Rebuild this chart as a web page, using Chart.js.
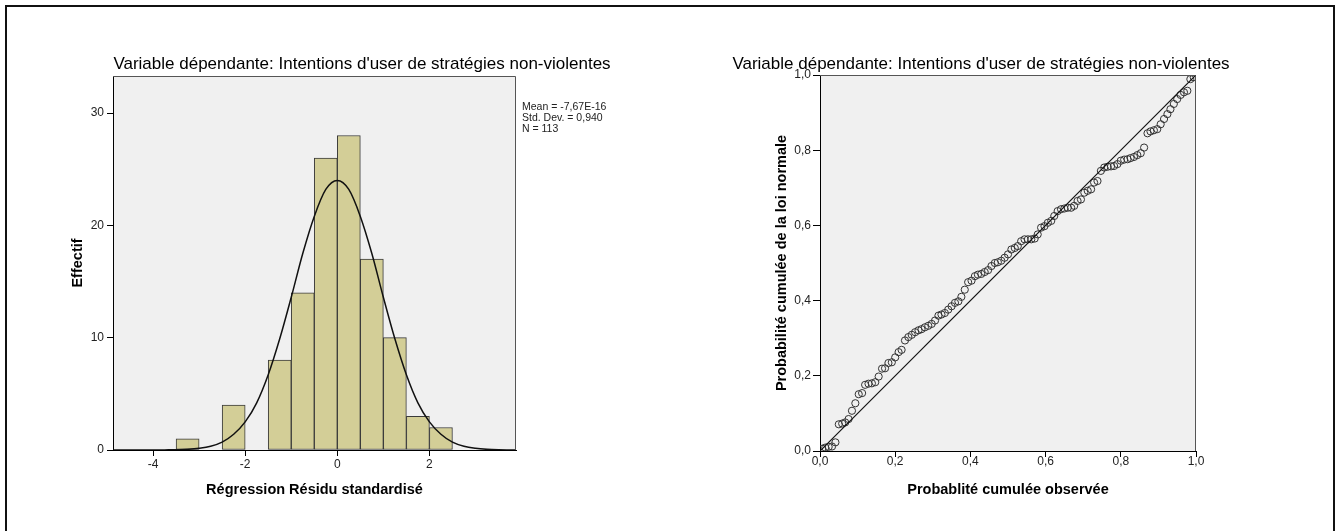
<!DOCTYPE html>
<html><head><meta charset="utf-8">
<script src="https://cdn.jsdelivr.net/npm/chart.js@4"></script>
<style>
html,body{margin:0;padding:0;background:#fff;width:1339px;height:531px;overflow:hidden;font-family:"Liberation Sans",Arial,sans-serif;}
#frame{position:absolute;left:5px;top:5px;width:1326px;height:600px;border:2px solid #111;}
canvas{position:absolute;top:0;}
.title{position:absolute;top:54px;width:600px;text-align:center;font-size:17px;line-height:20px;color:#000;white-space:nowrap;}
.legend{position:absolute;left:522px;top:101px;font-size:10.5px;line-height:11px;color:#222;white-space:nowrap;}
</style></head>
<body>
<div id="frame"></div>
<canvas id="c1" width="660" height="531" style="left:0px"></canvas>
<canvas id="c2" width="659" height="531" style="left:680px"></canvas>
<div class="title" id="t1" style="left:62px"></div>
<div class="title" id="t2" style="left:681px"></div>
<div class="legend" id="lg"></div>
<script>
// ---------- data ----------
const chartTitle = "Variable dépendante: Intentions d'user de stratégies non-violentes";
const histXTitle = "Régression Résidu standardisé";
const histYTitle = "Effectif";
const ppXTitle = "Probablité cumulée observée";
const ppYTitle = "Probabilité cumulée de la loi normale";
const legendLines = ["Mean = -7,67E-16", "Std. Dev. = 0,940", "N = 113"];

const binCenters = [-3.25, -2.25, -1.25, -0.75, -0.25, 0.25, 0.75, 1.25, 1.75, 2.25];
const binCounts  = [1, 4, 8, 14, 26, 28, 17, 10, 3, 2];

const curveX = [-4.87,-4.5,-4.25,-4,-3.75,-3.5,-3.25,-3,-2.75,-2.5,-2.25,-2,-1.75,-1.5,-1.25,-1,-0.75,-0.5,-0.25,0,0.25,0.5,0.75,1,1.25,1.5,1.75,2,2.25,2.5,2.75,3,3.25,3.5,3.88];
const curveY = [0,0,0,0,0.01,0.02,0.06,0.15,0.33,0.7,1.4,2.5,4.2,6.7,9.9,13.6,17.5,20.8,23.2,24,23.2,20.8,17.5,13.6,9.9,6.7,4.2,2.5,1.4,0.7,0.33,0.15,0.06,0.02,0];

const histXTicks = [-4, -2, 0, 2];
const histYTicks = [0, 10, 20, 30];

const ppObserved = [0.006,0.014,0.023,0.032,0.041,0.050,0.059,0.067,0.076,0.085,
0.094,0.103,0.112,0.120,0.129,0.138,0.147,0.156,0.165,0.173,
0.182,0.191,0.200,0.209,0.217,0.226,0.235,0.244,0.253,0.262,
0.270,0.279,0.288,0.297,0.306,0.315,0.323,0.332,0.341,0.350,
0.359,0.368,0.376,0.385,0.394,0.403,0.412,0.420,0.429,0.438,
0.447,0.456,0.465,0.473,0.482,0.491,0.500,0.509,0.518,0.526,
0.535,0.544,0.553,0.562,0.571,0.579,0.588,0.597,0.606,0.615,
0.623,0.632,0.641,0.650,0.659,0.668,0.676,0.685,0.694,0.703,
0.712,0.721,0.729,0.738,0.747,0.756,0.765,0.774,0.782,0.791,
0.800,0.809,0.818,0.826,0.835,0.844,0.853,0.862,0.871,0.879,
0.888,0.897,0.906,0.915,0.924,0.932,0.941,0.950,0.959,0.968,
0.977,0.985,0.994];
const ppExpected = [0.006,0.009,0.011,0.012,0.023,0.071,0.073,0.076,0.085,0.107,
0.127,0.151,0.154,0.176,0.179,0.180,0.183,0.198,0.219,0.220,
0.234,0.236,0.249,0.263,0.269,0.294,0.303,0.309,0.316,0.321,
0.324,0.329,0.333,0.338,0.347,0.360,0.363,0.367,0.376,0.385,
0.394,0.398,0.410,0.429,0.449,0.453,0.465,0.469,0.471,0.476,
0.481,0.492,0.500,0.502,0.506,0.514,0.523,0.536,0.540,0.545,
0.558,0.563,0.563,0.563,0.565,0.576,0.594,0.598,0.607,0.612,
0.625,0.638,0.643,0.645,0.647,0.647,0.652,0.665,0.669,0.687,
0.692,0.696,0.714,0.718,0.745,0.754,0.756,0.757,0.758,0.763,
0.772,0.775,0.776,0.779,0.782,0.787,0.792,0.807,0.845,0.850,
0.853,0.856,0.869,0.883,0.896,0.909,0.923,0.936,0.947,0.954,
0.958,0.989,0.994];
const diagonal = [0, 1];
const ppTicks = [0, 0.2, 0.4, 0.6, 0.8, 1.0];

// ---------- text ----------
document.getElementById('t1').textContent = chartTitle;
document.getElementById('t2').textContent = chartTitle;
document.getElementById('lg').innerHTML = legendLines.map(s => '<div>' + s + '</div>').join('');

Chart.defaults.font.family = "'Liberation Sans', Arial, sans-serif";
Chart.defaults.font.size = 12;
Chart.defaults.color = '#222';
Chart.defaults.animation = false;

const plotBg = {
  id: 'plotBg',
  beforeDraw(chart) {
    const {ctx, chartArea: a} = chart;
    ctx.save();
    ctx.fillStyle = '#f0f0f0';
    ctx.fillRect(a.left, a.top, a.right - a.left, a.bottom - a.top);
    ctx.restore();
  },
  afterDraw(chart) {
    const {ctx, chartArea: a} = chart;
    ctx.save();
    ctx.strokeStyle = '#555';
    ctx.lineWidth = 1;
    ctx.beginPath();
    ctx.moveTo(a.left, a.top + 0.5);
    ctx.lineTo(a.right - 0.5, a.top + 0.5);
    ctx.lineTo(a.right - 0.5, a.bottom);
    ctx.stroke();
    ctx.restore();
  }
};

const titleFont = {size: 14.5, weight: 'bold'};
const commonPlugins = {legend: {display: false}, tooltip: {enabled: false}, title: {display: false}};

// ---------- histogram ----------
new Chart(document.getElementById('c1'), {
  type: 'bar',
  data: {
    datasets: [
      {
        type: 'line',
        data: curveX.map((x, i) => ({x: x, y: curveY[i]})),
        borderColor: '#111', borderWidth: 1.5, pointRadius: 0,
        cubicInterpolationMode: 'monotone', fill: false, order: 0
      },
      {
        type: 'bar',
        data: binCenters.map((x, i) => ({x: x, y: binCounts[i]})),
        backgroundColor: '#d3ce97', borderColor: '#3a3a3a', borderWidth: 1,
        borderSkipped: false, barPercentage: 1, categoryPercentage: 1, order: 1
      }
    ]
  },
  options: {
    responsive: false, devicePixelRatio: 1,
    layout: {padding: {left: 67, right: 144, top: 76, bottom: 21}},
    plugins: commonPlugins,
    scales: {
      x: {
        type: 'linear', min: -4.87, max: 3.88, offset: false,
        afterBuildTicks: s => { s.ticks = histXTicks.map(v => ({value: v})); },
        afterFit: s => { s.height = 60; },
        grid: {display: true, drawOnChartArea: false, drawTicks: true, tickLength: 6, tickColor: '#000', offset: false},
        border: {color: '#000', width: 1},
        ticks: {padding: 1, color: '#222', font: {size: 12}, callback: v => String(v)},
        title: {display: true, text: histXTitle, color: '#000', font: titleFont, padding: {top: 2, bottom: 11}}
      },
      y: {
        type: 'linear', min: 0, max: 33.3,
        afterBuildTicks: s => { s.ticks = histYTicks.map(v => ({value: v})); },
        afterFit: s => { s.width = 46; },
        grid: {display: true, drawOnChartArea: false, drawTicks: true, tickLength: 6, tickColor: '#000'},
        border: {color: '#000', width: 1},
        ticks: {padding: 3, color: '#222', font: {size: 12}},
        title: {display: true, text: histYTitle, color: '#000', font: titleFont, padding: {top: 2, bottom: 2}}
      }
    }
  },
  plugins: [plotBg]
});

// ---------- P-P plot ----------
const fmt = v => Number(v).toFixed(1).replace('.', ',');
new Chart(document.getElementById('c2'), {
  type: 'scatter',
  data: {
    datasets: [
      {
        type: 'line',
        data: diagonal.map(v => ({x: v, y: v})),
        borderColor: '#111', borderWidth: 1.2, pointRadius: 0, fill: false
      },
      {
        type: 'scatter',
        data: ppObserved.map((x, i) => ({x: x, y: ppExpected[i]})),
        pointStyle: 'circle', pointRadius: 3.6, pointBorderWidth: 1,
        borderColor: '#333', backgroundColor: 'rgba(0,0,0,0)'
      }
    ]
  },
  options: {
    responsive: false, devicePixelRatio: 1,
    layout: {padding: {left: 90, right: 143, top: 75, bottom: 20}},
    plugins: commonPlugins,
    scales: {
      x: {
        type: 'linear', min: 0, max: 1,
        afterBuildTicks: s => { s.ticks = ppTicks.map(v => ({value: v})); },
        afterFit: s => { s.height = 60; },
        grid: {display: true, drawOnChartArea: false, drawTicks: true, tickLength: 6, tickColor: '#000'},
        border: {color: '#000', width: 1},
        ticks: {padding: -3, color: '#222', font: {size: 12}, callback: fmt},
        title: {display: true, text: ppXTitle, color: '#000', font: titleFont, padding: {top: 2, bottom: 12}}
      },
      y: {
        type: 'linear', min: 0, max: 1,
        afterBuildTicks: s => { s.ticks = ppTicks.map(v => ({value: v})); },
        afterFit: s => { s.width = 50; },
        grid: {display: true, drawOnChartArea: false, drawTicks: true, tickLength: 7, tickColor: '#000'},
        border: {color: '#000', width: 1},
        ticks: {padding: 2, color: '#222', font: {size: 12}, callback: fmt},
        title: {display: true, text: ppYTitle, color: '#000', font: titleFont, padding: {top: 3, bottom: 2}}
      }
    }
  },
  plugins: [plotBg]
});
</script>
</body></html>
